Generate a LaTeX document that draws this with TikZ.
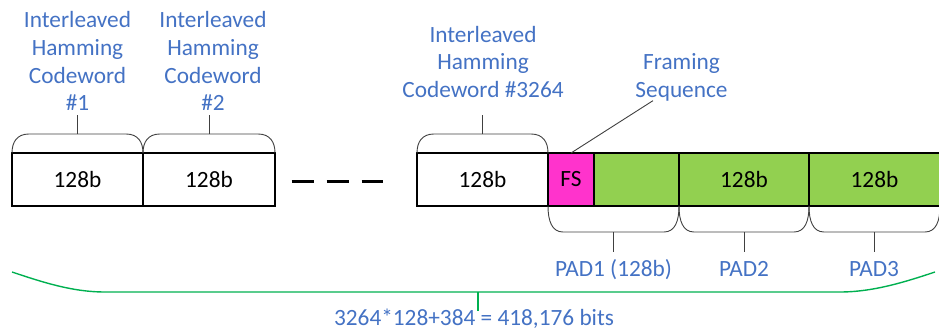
\documentclass[tikz,border=0pt]{standalone}
\usepackage{fontspec}
\setmainfont{Carlito}
\usetikzlibrary{calc}

\definecolor{labelblue}{HTML}{4472C4}
\definecolor{fsmagenta}{HTML}{FF33CC}
\definecolor{padgreen}{HTML}{92D050}
\definecolor{totalgreen}{HTML}{00B050}
\definecolor{bracegray}{HTML}{404040}

\tikzset{
  txt/.style={font=\fontsize{23.3}{27.8}\selectfont},
  cell/.style={txt, draw=black, line width=1.2pt, minimum height=53pt, inner sep=0pt,
    outer sep=0pt},
  padcell/.style={cell, fill=padgreen},
  fscell/.style={cell, fill=fsmagenta},
  label/.style={txt, text=labelblue, align=center, anchor=base, inner sep=0pt},
  brace/.style={draw=bracegray, line width=0.9pt},
  totalbrace/.style={draw=totalgreen, line width=1.4pt},
}

% brace above the span from #1 to #2 (both top corners), tick pointing up
\newcommand\capabove[2]{%
  \draw[brace] (#1) .. controls ($(#1)+(0,11)$) and ($(#1)+(5,19)$) .. ($(#1)+(17,19)$)
    -- ($(#2)+(-17,19)$) .. controls ($(#2)+(-5,19)$) and ($(#2)+(0,11)$) .. (#2);
  \draw[brace] ($(#1)!0.5!(#2)+(0,19)$) -- ++(0,19);
}
% brace below the span from #1 to #2 (both bottom corners), tick pointing down
\newcommand\capbelow[2]{%
  \draw[brace] (#1) .. controls ($(#1)+(0,-15)$) and ($(#1)+(4,-26)$) .. ($(#1)+(15,-26)$)
    -- ($(#2)+(-15,-26)$) .. controls ($(#2)+(-4,-26)$) and ($(#2)+(0,-15)$) .. (#2);
  \draw[brace] ($(#1)!0.5!(#2)+(0,-26)$) -- ++(0,-20);
}

\begin{document}
\begin{tikzpicture}[x=1pt,y=1pt]
  \clip (0,0) rectangle (939,330);

  % the frame: codewords, framing sequence and padding
  \node[cell, minimum width=131pt] (b1) at (77.5,150.5) {128b};
  \node[cell, minimum width=132pt, anchor=west] (b2) at (b1.east) {128b};
  \node[cell, minimum width=131pt] (b3) at (482.5,150.5) {128b};
  \node[fscell, minimum width=46pt, anchor=west] (fs) at (b3.east) {FS};
  \node[padcell, minimum width=85pt, anchor=west] (g1) at (fs.east) {};
  \node[padcell, minimum width=130pt, anchor=west] (g2) at (g1.east) {128b};
  \node[padcell, minimum width=136pt, anchor=west] (g3) at (g2.east) {};
  \node[txt, inner sep=0pt] (g3txt) at ($(g2.center)+(130.5,0)$) {128b};

  % omitted codewords
  \coordinate (gapL) at ($(b2.east)+(16.7,-1.5)$);
  \coordinate (gapR) at ($(b3.west)+(-33.7,-1.5)$);
  \draw[line width=3pt, dash pattern=on 22pt off 13pt] (gapL) -- (gapR);

  % codeword labels (anchored at the baseline of their last line)
  \node[label] (l1) at (77.5,219) {Interleaved\\Hamming\\Codeword\\\#1};
  \node[label] (l2) at (213,219) {Interleaved\\Hamming\\Codeword\\\#2};
  \node[label] (l3) at (483,232.3) {Interleaved\\Hamming\\Codeword \#3264};
  \node[label] (lfs) at (681.5,232.3) {Framing\\Sequence};

  \capabove{b1.north west}{b1.north east}
  \capabove{b2.north west}{b2.north east}
  \capabove{b3.north west}{b3.north east}

  \draw[brace] (fs.north) -- ([xshift=-28.5pt,yshift=1pt]lfs.south);

  % padding braces and labels
  \capbelow{fs.south west}{g1.south east}
  \capbelow{g2.south west}{g2.south east}
  \capbelow{g3.south west}{940,124}

  \node[label] (p1) at (613.5,54) {PAD1 (128b)};
  \node[label] (p2) at (744,54) {PAD2};
  \node[label] (p3) at (874,54) {PAD3};

  % total length
  \coordinate (tl) at (12,58);
  \coordinate (tr) at (935,58);
  \coordinate (tm) at (478,38);
  \draw[totalbrace] (tl) .. controls (42,48) and (72,38) .. (105,38)
    -- (840,38) .. controls (873,38) and (905,48) .. (tr);
  \draw[totalbrace] (tm) -- ++(0,-19);
  \node[label] (total) at (474,4.5) {3264*128+384 = 418,176 bits};
\end{tikzpicture}
\end{document}
